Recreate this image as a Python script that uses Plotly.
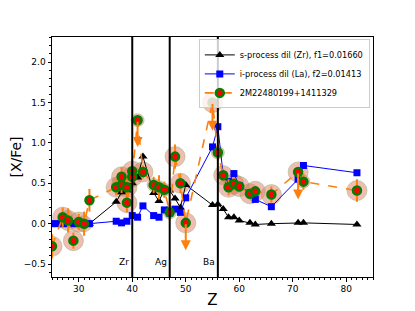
import plotly.graph_objects as go

# ---------------- data ----------------
z_model = [25, 26, 27, 28, 29, 30, 31, 32, 37, 38, 39, 40, 41, 42, 44, 45, 46, 47, 48, 49, 50,
           55, 56, 57, 58, 59, 60, 62, 63, 66, 71, 72, 82]
s_dil = [0.0, 0.0, 0.0, 0.0, 0.0, 0.0, 0.0, 0.0, 0.27, 0.39, 0.41, 0.50, 0.57, 0.83, 0.38, 0.28, 0.42,
         0.41, 0.31, 0.20, 0.48, 0.23, 0.24, 0.18, 0.08, 0.08, 0.04, 0.01, -0.01, 0.0, 0.01, 0.01, -0.01]
i_dil = [0.0, 0.0, 0.0, 0.0, 0.0, 0.0, 0.0, 0.0, 0.03, 0.01, 0.03, 0.10, 0.08, 0.22, 0.10, 0.08, 0.17,
         0.13, 0.18, 0.14, 0.32, 0.95, 1.20, 0.60, 0.52, 0.62, 0.47, 0.38, 0.30, 0.21, 0.55, 0.72, 0.63]

z_obs = [25, 27, 28, 29, 30, 31, 32, 37, 38, 38, 39, 39, 40, 40, 41, 42, 44, 45, 46, 47, 48, 49, 50,
         55, 56, 57, 58, 59, 60, 62, 63, 66, 71, 72, 82]
xfe_obs = [-0.28, 0.08, 0.04, -0.21, 0.02, 0.0, 0.29, 0.45, 0.58, 0.48, 0.45, 0.26, 0.65, 0.58, 1.28,
           0.64, 0.48, 0.45, 0.42, 0.14, 0.83, 0.50, 0.01, 1.50, 0.88, 0.60, 0.45, 0.49, 0.46, 0.37,
           0.40, 0.36, 0.64, 0.52, 0.41]
err_obs = [0.15, 0.12, 0.15, 0.10, 0.10, 0.15, 0.14, 0.10, 0.12, 0.10, 0.12, 0.12, 0.15, 0.12, 0.0,
           0.08, 0.10, 0.15, 0.10, 0.10, 0.15, 0.12, 0.0, 0.0, 0.10, 0.08, 0.10, 0.08, 0.06, 0.06,
           0.06, 0.10, 0.0, 0.10, 0.14]
halo = [20, 20, 20, 20, 20, 16, 0, 20, 20, 20, 20, 20, 20, 20, 13, 20, 13, 13, 13, 13, 20, 20, 20,
        20, 13, 19, 20, 20, 20, 20, 20, 20, 20, 13, 20]

# upper limits
ul_z = [41, 50, 55, 71]
ul_from = [1.28, 0.01, 1.50, 0.64]
ul_to = [0.95, -0.33, 1.15, 0.30]

ref_z = [40, 47, 56]
ref_lab = ["Zr", "Ag", "Ba"]

x_ticks = [30, 40, 50, 60, 70, 80]
y_ticks = [-0.5, 0.0, 0.5, 1.0, 1.5, 2.0]
y_tick_text = ["\u22120.5", "0.0", "0.5", "1.0", "1.5", "2.0"]

FONT = "DejaVu Sans"
ORANGE = "#ff7f0e"

fig = go.Figure()

# halos (behind)
fig.add_trace(go.Scatter(
    x=z_obs, y=xfe_obs, mode="markers", showlegend=False, hoverinfo="skip",
    marker=dict(size=halo, color="rgba(232,125,105,0.72)",
                line=dict(color="rgba(120,160,80,0.6)", width=1)),
))

fig.add_trace(go.Scatter(
    x=z_model, y=s_dil, mode="lines+markers", name="s-process dil (Zr), f1=0.01660",
    line=dict(color="black", width=1),
    marker=dict(symbol="triangle-up", size=8, color="black"),
))
fig.add_trace(go.Scatter(
    x=z_model, y=i_dil, mode="lines+markers", name="i-process dil (La), f2=0.01413",
    line=dict(color="blue", width=1),
    marker=dict(symbol="square", size=7, color="blue"),
))
fig.add_trace(go.Scatter(
    x=z_obs, y=xfe_obs, mode="lines+markers", name="2M22480199+1411329",
    line=dict(color=ORANGE, width=1.6, dash="dash"),
    marker=dict(symbol="circle", size=8, color="red", line=dict(color="green", width=2.5)),
    error_y=dict(type="data", array=err_obs, visible=True, color=ORANGE, thickness=2, width=0),
))

for z, y0, y1 in zip(ul_z, ul_from, ul_to):
    fig.add_annotation(x=z, y=y1, ax=z, ay=y0, xref="x", yref="y", axref="x", ayref="y",
                       text="", showarrow=True, arrowhead=2, arrowsize=1, arrowwidth=2,
                       arrowcolor=ORANGE, standoff=0, startstandoff=0)

for z, lab in zip(ref_z, ref_lab):
    fig.add_vline(x=z, line=dict(color="black", width=2))
    fig.add_annotation(x=z, y=-0.47, xref="x", yref="y", text=lab, showarrow=False,
                       xanchor="right", xshift=-1, font=dict(family=FONT, size=9, color="black"))

axis_common = dict(showgrid=False, zeroline=False, showline=True, linecolor="black", linewidth=1,
                   mirror=True, ticks="outside", ticklen=3.5, tickcolor="black",
                   tickfont=dict(family=FONT, size=9, color="black"))

fig.update_xaxes(range=[25, 85], tickvals=x_ticks,
                 minor=dict(dtick=1, ticks="outside", ticklen=2, tickcolor="black"),
                 title=dict(text="Z", font=dict(family=FONT, size=15, color="black"), standoff=1),
                 **axis_common)
fig.update_yaxes(range=[-0.66, 2.31], tickvals=y_ticks, ticktext=y_tick_text,
                 minor=dict(dtick=0.1, ticks="outside", ticklen=2, tickcolor="black"),
                 title=dict(text="[X/Fe]", font=dict(family=FONT, size=14, color="black"), standoff=3),
                 **axis_common)

# page body adds an 8px offset; margins compensate so the plot area lands at 52..373 x 37..277
fig.update_layout(
    width=415, height=311,
    margin=dict(l=44, r=50, t=29, b=42, autoexpand=False),
    plot_bgcolor="white", paper_bgcolor="white",
    font=dict(family=FONT, size=9, color="black"),
    legend=dict(x=0.99, y=0.99, xanchor="right", yanchor="top",
                bgcolor="rgba(255,255,255,0.8)", bordercolor="#cccccc", borderwidth=1,
                font=dict(family=FONT, size=8.2, color="black"), tracegroupgap=0,
                itemwidth=30),
    showlegend=True,
)

fig.write_html("out.html")
